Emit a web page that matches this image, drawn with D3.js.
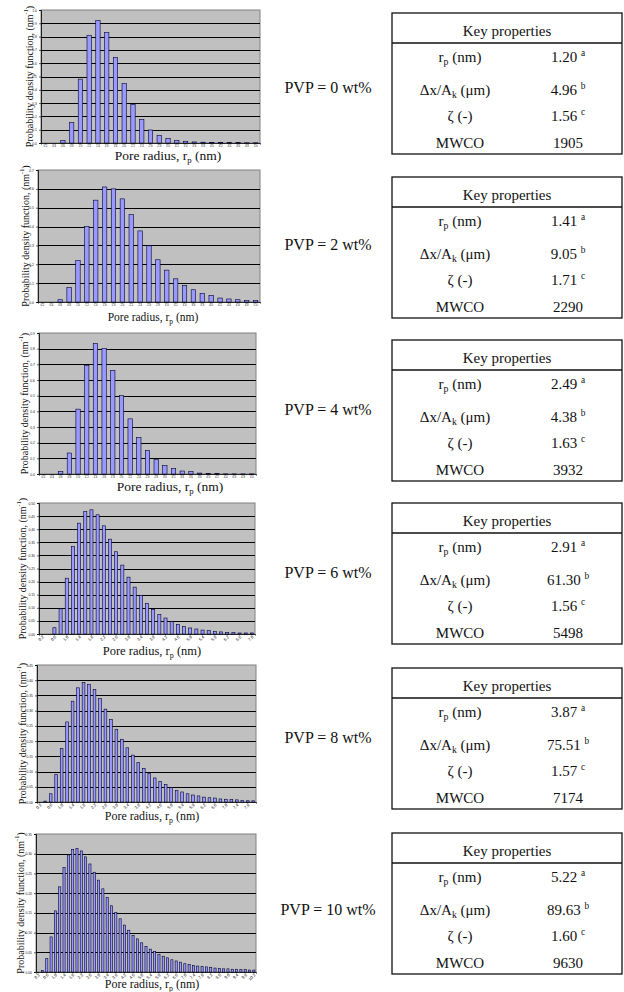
<!DOCTYPE html>
<html>
<head>
<meta charset="utf-8">
<script src="https://cdn.jsdelivr.net/npm/d3@7"></script>
<style>
  body { margin: 0; background: #fff; }
  svg { display: block; }
</style>
</head>
<body>
<svg id="fig" width="624" height="992"></svg>
<script>
// pore radius categories (nm)
const rp25 = ["0.2","0.4","0.6","0.8","1.0","1.2","1.4","1.6","1.8","2.0","2.2","2.4","2.6","2.8","3.0","3.2","3.4","3.6","3.8","4.0","4.2","4.4","4.6","4.8","5.0"];
const rp35 = rp25.concat(["5.2","5.4","5.6","5.8","6.0","6.2","6.4","6.6","6.8","7.0"]);
const rp40 = rp35.concat(["7.2","7.4","7.6","7.8","8.0"]);
const rp51 = rp40.concat(["8.2","8.4","8.6","8.8","9.0","9.2","9.4","9.6","9.8","10.0","10.2"]);

// probability density values (nm^-1)
const pdf0 = [0, 0, 0.018, 0.153, 0.48, 0.81, 0.92, 0.83, 0.643, 0.447, 0.289, 0.178, 0.098, 0.058, 0.035, 0.02, 0.013, 0.008, 0.006, 0.005, 0.004, 0.003, 0.003, 0.002, 0.002];
const pdf2 = [0, 0, 0.012, 0.076, 0.22, 0.40, 0.54, 0.61, 0.60, 0.547, 0.464, 0.377, 0.298, 0.224, 0.169, 0.123, 0.088, 0.065, 0.046, 0.035, 0.021, 0.016, 0.012, 0.007, 0.007];
const pdf4 = [0, 0, 0.015, 0.134, 0.414, 0.693, 0.834, 0.80, 0.661, 0.50, 0.352, 0.232, 0.149, 0.092, 0.055, 0.034, 0.019, 0.015, 0.006, 0.003, 0.002, 0.001, 0.001, 0.001, 0.001];
const pdf6 = [0, 0, 0.024, 0.096, 0.213, 0.334, 0.423, 0.468, 0.474, 0.455, 0.413, 0.362, 0.314, 0.263, 0.217, 0.179, 0.148, 0.117, 0.094, 0.075, 0.061, 0.047, 0.037, 0.028, 0.023, 0.019, 0.015, 0.013, 0.009, 0.008, 0.006, 0.005, 0.004, 0.004, 0.004];
const pdf8 = [0, 0.003, 0.027, 0.09, 0.176, 0.263, 0.331, 0.375, 0.393, 0.386, 0.369, 0.34, 0.305, 0.271, 0.239, 0.206, 0.178, 0.154, 0.13, 0.11, 0.093, 0.079, 0.068, 0.057, 0.047, 0.038, 0.033, 0.027, 0.023, 0.02, 0.016, 0.014, 0.013, 0.01, 0.009, 0.008, 0.007, 0.005, 0.004, 0.004];
const pdf10 = [0, 0.004, 0.034, 0.089, 0.155, 0.216, 0.265, 0.297, 0.311, 0.313, 0.307, 0.292, 0.274, 0.253, 0.233, 0.211, 0.189, 0.168, 0.151, 0.135, 0.119, 0.106, 0.093, 0.084, 0.074, 0.065, 0.058, 0.052, 0.045, 0.040, 0.036, 0.031, 0.028, 0.025, 0.021, 0.019, 0.017, 0.015, 0.014, 0.013, 0.012, 0.010, 0.009, 0.008, 0.008, 0.007, 0.007, 0.006, 0.006, 0.005, 0.005];

// y tick values
const yTicks0 = [0, 0.1, 0.2, 0.3, 0.4, 0.5, 0.6, 0.7, 0.8, 0.9, 1.0];
const yTicks2 = [0, 0.1, 0.2, 0.3, 0.4, 0.5, 0.6, 0.7];
const yTicks4 = [0, 0.1, 0.2, 0.3, 0.4, 0.5, 0.6, 0.7, 0.8, 0.9];
const yTicks6 = [0, 0.05, 0.10, 0.15, 0.20, 0.25, 0.30, 0.35, 0.40, 0.45, 0.50];
const yTicks8 = [0, 0.05, 0.10, 0.15, 0.20, 0.25, 0.30, 0.35, 0.40, 0.45];
const yTicks10 = [0, 0.05, 0.10, 0.15, 0.20, 0.25, 0.30, 0.35];

// table contents
const pvpLabels = ["PVP = 0 wt%", "PVP = 2 wt%", "PVP = 4 wt%", "PVP = 6 wt%", "PVP = 8 wt%", "PVP = 10 wt%"];
const rpValues = ["1.20", "1.41", "2.49", "2.91", "3.87", "5.22"];
const dxValues = ["4.96", "9.05", "4.38", "61.30", "75.51", "89.63"];
const zetaValues = ["1.56", "1.71", "1.63", "1.56", "1.57", "1.60"];
const mwcoValues = ["1905", "2290", "3932", "5498", "7174", "9630"];

const SERIF = "Liberation Serif";
const SANS = "Liberation Sans";

const svg = d3.select("#fig");

// where each small chart sits on the page
const panels = [
  { cats: rp25, vals: pdf0, ticks: yTicks0, fmt: ".1f", left: 41, right: 260, top: 10, bottom: 143, ytx: 29, xtx: 168, xty: 160, xfs: 13.5, rot: false },
  { cats: rp25, vals: pdf2, ticks: yTicks2, fmt: ".1f", left: 38, right: 260, top: 170, bottom: 302, ytx: 25, xtx: 153, xty: 321, xfs: 11.5, rot: false },
  { cats: rp25, vals: pdf4, ticks: yTicks4, fmt: ".1f", left: 39, right: 256, top: 333, bottom: 474, ytx: 24, xtx: 170, xty: 491, xfs: 13.5, rot: false },
  { cats: rp35, vals: pdf6, ticks: yTicks6, fmt: ".2f", left: 39, right: 255, top: 503, bottom: 634, ytx: 22, xtx: 152, xty: 655, xfs: 12.5, rot: true },
  { cats: rp40, vals: pdf8, ticks: yTicks8, fmt: ".2f", left: 37, right: 256, top: 665, bottom: 802, ytx: 22, xtx: 152, xty: 820, xfs: 12, rot: true },
  { cats: rp51, vals: pdf10, ticks: yTicks10, fmt: ".2f", left: 36, right: 256, top: 834, bottom: 972, ytx: 20, xtx: 152, xty: 988, xfs: 12, rot: true }
];

const tableTops = [13, 177, 340, 503, 668, 833];
const pvpY = [93, 250, 415, 578, 743, 915];

// subscript / superscript helpers: shift with dy so the text comes back to baseline
function addSub(t, base, sub, rest, fs) {
  t.append("tspan").text(base);
  t.append("tspan").attr("font-size", fs * 0.65).attr("dy", fs * 0.22).text(sub);
  t.append("tspan").attr("dy", -fs * 0.22).text(rest);
}
function addSup(t, base, sup, rest, fs) {
  t.append("tspan").text(base);
  t.append("tspan").attr("font-size", fs * 0.62).attr("dy", -fs * 0.38).text(sup);
  if (rest) t.append("tspan").attr("dy", fs * 0.38).text(rest);
}

function drawHistogram(p) {
  const g = svg.append("g");
  const x = d3.scaleBand().domain(p.cats).range([p.left, p.right]).paddingInner(0.5).paddingOuter(0.25);
  const y = d3.scaleLinear().domain([0, p.ticks[p.ticks.length - 1]]).range([p.bottom, p.top]);

  g.append("rect")
    .attr("x", p.left).attr("y", p.top)
    .attr("width", p.right - p.left).attr("height", p.bottom - p.top)
    .attr("fill", "#c0c0c0").attr("stroke", "#808080").attr("stroke-width", 1);

  // gridlines
  g.selectAll(".grid")
    .data(p.ticks.slice(1, -1))
    .enter().append("line")
    .attr("x1", p.left).attr("x2", p.right)
    .attr("y1", d => Math.round(y(d)) + 0.5).attr("y2", d => Math.round(y(d)) + 0.5)
    .attr("stroke", "#000").attr("stroke-width", 1);

  // bars
  const data = p.cats.map((c, i) => ({ cat: c, v: p.vals[i] }));
  g.selectAll(".bar")
    .data(data)
    .enter().append("rect")
    .attr("x", d => x(d.cat))
    .attr("width", x.bandwidth())
    .attr("y", d => y(d.v))
    .attr("height", d => p.bottom - y(d.v))
    .attr("fill", "#9999ff")
    .attr("stroke", "#000033")
    .attr("stroke-width", 0.6);

  // axes
  const yAxis = g.append("g")
    .attr("transform", `translate(${p.left},0)`)
    .call(d3.axisLeft(y).tickValues(p.ticks).tickSize(2).tickPadding(2).tickFormat(d3.format(p.fmt)));
  yAxis.selectAll("text").style("font-family", SANS).attr("font-size", 3.4).attr("fill", "#222");
  yAxis.selectAll("line").attr("stroke", "#000").attr("stroke-width", 0.6);
  yAxis.select(".domain").attr("stroke", "#000").attr("stroke-width", 0.8);

  const shown = p.rot ? p.cats.filter((d, i) => i % 2 === 0) : p.cats;
  const xAxis = g.append("g")
    .attr("transform", `translate(0,${p.bottom})`)
    .call(d3.axisBottom(x).tickValues(shown).tickSize(1.5).tickPadding(1));
  xAxis.select(".domain").attr("stroke", "#000").attr("stroke-width", 0.8);
  xAxis.selectAll("line").attr("stroke", "#000").attr("stroke-width", 0.6);
  const xt = xAxis.selectAll("text").style("font-family", SANS).attr("font-size", p.rot ? 4.2 : 2.8).attr("fill", "#222");
  if (p.rot) {
    xt.attr("text-anchor", "end").attr("dx", "-0.2em").attr("dy", "0.3em").attr("transform", "rotate(-45)");
  }

  // y title
  const yt = g.append("text")
    .style("font-family", SERIF)
    .attr("transform", `translate(${p.ytx},${(p.top + p.bottom) / 2}) rotate(-90)`)
    .attr("text-anchor", "middle").attr("dominant-baseline", "central")
    .attr("font-size", 10).attr("fill", "#111");
  addSup(yt, "Probability density function, (nm", "-1", ")", 10);

  // x title
  const xtl = g.append("text")
    .style("font-family", SERIF)
    .attr("x", p.xtx).attr("y", p.xty)
    .attr("text-anchor", "middle")
    .attr("font-size", p.xfs).attr("fill", "#111");
  addSub(xtl, "Pore radius, r", "p", " (nm)", p.xfs);
}

function drawTable(i) {
  const top = tableTops[i];
  const left = 392, right = 622, h = 141;
  const g = svg.append("g").style("font-family", SERIF).attr("fill", "#111");

  g.append("rect")
    .attr("x", left).attr("y", top).attr("width", right - left).attr("height", h)
    .attr("fill", "none").attr("stroke", "#111").attr("stroke-width", 1.3);
  g.append("line")
    .attr("x1", left).attr("x2", right).attr("y1", top + 30).attr("y2", top + 30)
    .attr("stroke", "#111").attr("stroke-width", 1.3);

  g.append("text").attr("x", (left + right) / 2).attr("y", top + 23)
    .attr("text-anchor", "middle").attr("font-size", 15).text("Key properties");

  const lx = 460, vx = 568;
  const rowY = [top + 49, top + 82, top + 108, top + 135];

  // labels
  let t = g.append("text").attr("x", lx).attr("y", rowY[0]).attr("text-anchor", "middle").attr("font-size", 15);
  addSub(t, "r", "p", " (nm)", 15);

  t = g.append("text").attr("x", lx - 5).attr("y", rowY[1]).attr("text-anchor", "middle").attr("font-size", 15);
  addSub(t, "\u0394x/A", "k", " (\u03bcm)", 15);

  g.append("text").attr("x", lx).attr("y", rowY[2]).attr("text-anchor", "middle").attr("font-size", 15).text("\u03b6 (-)");
  g.append("text").attr("x", lx).attr("y", rowY[3]).attr("text-anchor", "middle").attr("font-size", 15).text("MWCO");

  // values
  const vals = [[rpValues[i], "a"], [dxValues[i], "b"], [zetaValues[i], "c"]];
  vals.forEach((v, k) => {
    const vt = g.append("text").attr("x", vx).attr("y", rowY[k]).attr("text-anchor", "middle").attr("font-size", 15);
    addSup(vt, v[0] + " ", v[1], null, 15);
  });
  g.append("text").attr("x", vx).attr("y", rowY[3]).attr("text-anchor", "middle").attr("font-size", 15).text(mwcoValues[i]);

  // PVP label
  svg.append("text").style("font-family", SERIF).attr("x", 328).attr("y", pvpY[i])
    .attr("text-anchor", "middle").attr("font-size", 16).attr("fill", "#111")
    .text(pvpLabels[i]);
}

panels.forEach(drawHistogram);
pvpLabels.forEach((d, i) => drawTable(i));
</script>
</body>
</html>
